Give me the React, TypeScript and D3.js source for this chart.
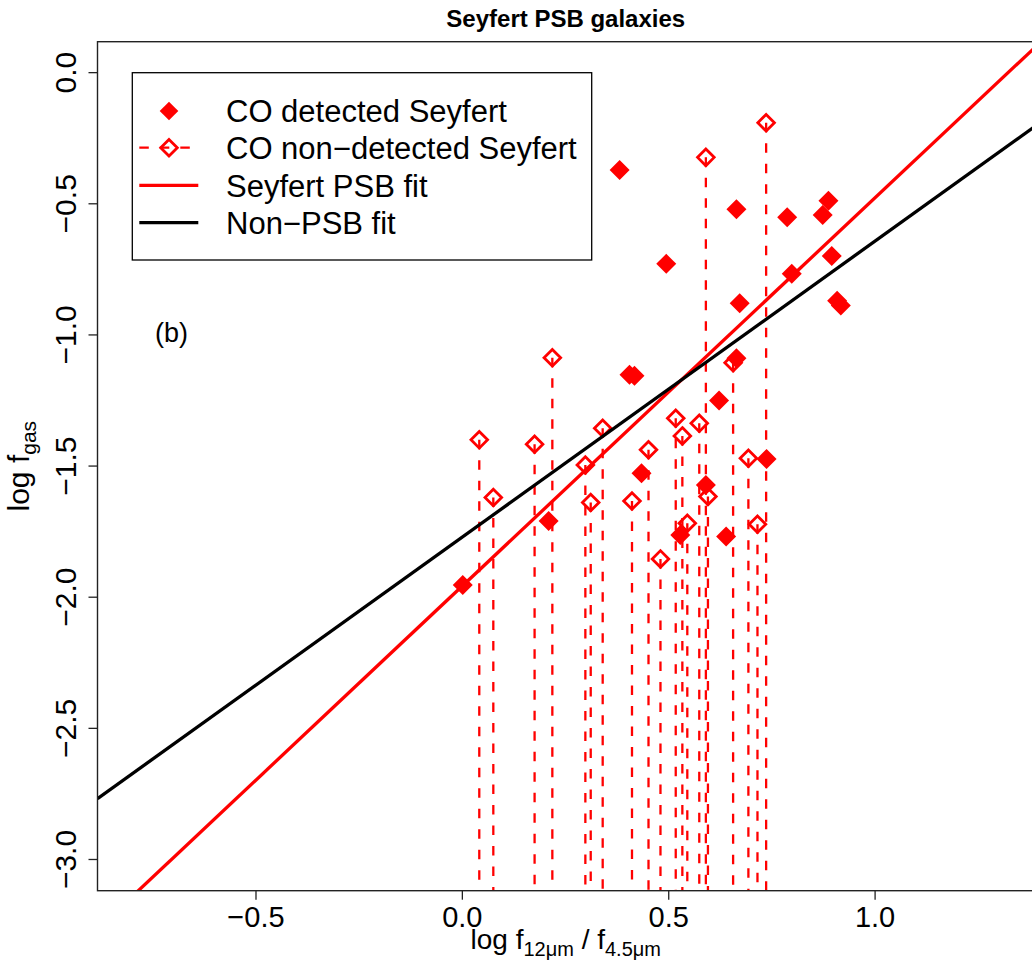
import React from "react";
import * as d3 from "d3";

// ---- data ----
const detectedX = [0.001, 0.209, 0.381, 0.405, 0.417, 0.434, 0.494, 0.528, 0.59, 0.622, 0.639, 0.664, 0.664, 0.672, 0.737, 0.787, 0.798, 0.873, 0.887, 0.895, 0.917, 0.908];
const detectedY = [-1.953, -1.709, -0.371, -1.152, -1.156, -1.527, -0.729, -1.763, -1.572, -1.25, -1.769, -0.521, -1.089, -0.879, -1.473, -0.551, -0.767, -0.543, -0.488, -0.699, -0.888, -0.87];

const nondetX = [0.041, 0.075, 0.175, 0.218, 0.298, 0.311, 0.34, 0.411, 0.451, 0.48, 0.517, 0.533, 0.545, 0.574, 0.59, 0.595, 0.656, 0.693, 0.715, 0.736];
const nondetY = [-1.4, -1.62, -1.417, -1.087, -1.496, -1.639, -1.356, -1.633, -1.438, -1.854, -1.318, -1.385, -1.718, -1.337, -0.323, -1.616, -1.106, -1.47, -1.722, -0.191];

// [intercept, slope]
const psbFit = [-1.957, 1.48];
const nonPsbFit = [-1.7705, 1.1284];

const xTicks = [-0.5, 0, 0.5, 1.0];
const yTicks = [0, -0.5, -1.0, -1.5, -2.0, -2.5, -3.0];
const legendLabels = ["CO detected Seyfert", "CO non\u2212detected Seyfert", "Seyfert PSB fit", "Non\u2212PSB fit"];
const titleText = "Seyfert PSB galaxies";
const panelLabel = "(b)";

const W = 1032;
const H = 962;
const L = 97.5, R = 1034, T = 41.7, B = 890.7;
const FONT = "'Liberation Sans', Arial, Helvetica, sans-serif";
const RED = "#FF0000";

const fmt = (v: number) => (v < 0 ? "\u2212" : "") + Math.abs(v).toFixed(1);

export default function App() {
  const x = d3.scaleLinear().domain([-0.884, 1.385]).range([L, R]);
  const y = d3.scaleLinear().domain([-3.119, 0.118]).range([B, T]);

  const diamond = (cx: number, cy: number, r: number) =>
    `M${cx},${cy - r}L${cx + r},${cy}L${cx},${cy + r}L${cx - r},${cy}Z`;

  const fitLine = (fit: number[]) => {
    const xs = [-0.884, 1.385];
    return d3.line<number>().x((d) => x(d)).y((d) => y(fit[0] + fit[1] * d))(xs) as string;
  };

  const legendRows = [111, 147.7, 185.3, 222.7];

  return (
    <div style={{ position: "absolute", left: 0, top: 0 }}>
      <svg width={W} height={H} style={{ display: "block", background: "#fff" }} fontFamily={FONT}>
        <defs>
          <clipPath id="plotClip">
            <rect x={L} y={T} width={R - L} height={B - T} />
          </clipPath>
        </defs>
        <rect x={0} y={0} width={W} height={H} fill="#fff" />

        {/* title */}
        <text x={(L + R) / 2} y={26.7} textAnchor="middle" fontSize={24} fontWeight="bold">
          {titleText}
        </text>

        <g clipPath="url(#plotClip)">
          {/* dashed drop lines for non-detections */}
          {nondetX.map((v, i) => (
            <line key={"d" + i} x1={x(v)} x2={x(v)} y1={y(nondetY[i])} y2={B + 2}
              stroke={RED} strokeWidth={2.3} strokeDasharray="9.5 11" />
          ))}
          {/* open diamonds */}
          {nondetX.map((v, i) => (
            <path key={"o" + i} d={diamond(x(v), y(nondetY[i]), 8.3)} fill="none" stroke={RED} strokeWidth={2.8} />
          ))}
          {/* filled diamonds */}
          {detectedX.map((v, i) => (
            <path key={"f" + i} d={diamond(x(v), y(detectedY[i]), 10)} fill={RED} />
          ))}
          {/* fits */}
          <path d={fitLine(psbFit)} stroke={RED} strokeWidth={3.3} fill="none" />
          <path d={fitLine(nonPsbFit)} stroke="#000" strokeWidth={3.3} fill="none" />
        </g>

        {/* plot box */}
        <rect x={L} y={T} width={R - L} height={B - T} fill="none" stroke="#222" strokeWidth={1.4} />

        {/* x axis */}
        {xTicks.map((t) => (
          <g key={"xt" + t}>
            <line x1={x(t)} x2={x(t)} y1={B} y2={B + 9} stroke="#222" strokeWidth={1.3} />
            <text x={x(t)} y={927} textAnchor="middle" fontSize={29}>{fmt(t)}</text>
          </g>
        ))}
        {/* y axis */}
        {yTicks.map((t) => (
          <g key={"yt" + t}>
            <line x1={L - 9} x2={L} y1={y(t)} y2={y(t)} stroke="#222" strokeWidth={1.3} />
            <text transform={`translate(76,${y(t)}) rotate(-90)`} textAnchor="middle" fontSize={30}>{fmt(t)}</text>
          </g>
        ))}

        {/* axis titles */}
        <text x={(L + R) / 2} y={949} textAnchor="middle" fontSize={28}>
          log f<tspan fontSize={20} dy={7}>12μm</tspan>
          <tspan dy={-7}> / f</tspan>
          <tspan fontSize={20} dy={7}>4.5μm</tspan>
        </text>
        <text transform={`translate(29,${(T + B) / 2}) rotate(-90)`} textAnchor="middle" fontSize={30}>
          log f<tspan fontSize={21} dy={7}>gas</tspan>
        </text>

        {/* panel label */}
        <text x={155} y={342} fontSize={27}>{panelLabel}</text>

        {/* legend */}
        <rect x={132.3} y={72.7} width={459.4} height={187.3} fill="#fff" stroke="#000" strokeWidth={1.3} />
        <path d={diamond(169, legendRows[0], 9.3)} fill={RED} />
        <line x1={139.3} x2={198.3} y1={legendRows[1]} y2={legendRows[1]} stroke={RED} strokeWidth={2.3} strokeDasharray="9.5 11" />
        <path d={diamond(169, legendRows[1], 8.3)} fill="none" stroke={RED} strokeWidth={2.8} />
        <line x1={139.3} x2={198.3} y1={legendRows[2]} y2={legendRows[2]} stroke={RED} strokeWidth={3.3} />
        <line x1={139.3} x2={198.3} y1={legendRows[3]} y2={legendRows[3]} stroke="#000" strokeWidth={3.3} />
        {legendLabels.map((s, i) => (
          <text key={s} x={226} y={legendRows[i] + 11.3} fontSize={31}>{s}</text>
        ))}
      </svg>
    </div>
  );
}
